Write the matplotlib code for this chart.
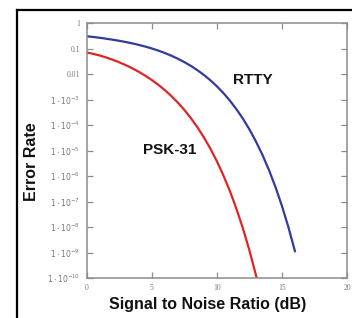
import matplotlib
matplotlib.use("Agg")
import matplotlib.pyplot as plt
from matplotlib.lines import Line2D

# SNR (dB) sample points
snr_rtty = [0, 0.5, 1, 1.5, 2, 2.5, 3, 3.5, 4, 4.5, 5, 5.5, 6, 6.5, 7, 7.5, 8,
            8.5, 9, 9.5, 10, 10.5, 11, 11.5, 12, 12.5, 13, 13.5, 14, 14.5, 15,
            15.5, 16]
err_rtty = [0.31, 0.29, 0.27, 0.248, 0.227, 0.206, 0.184, 0.163, 0.142, 0.122,
            0.103, 0.0848, 0.0683, 0.0536, 0.0408, 0.0300, 0.0213, 0.01452,
            0.00942, 0.00581, 0.00337, 0.00183, 9.23e-4, 4.28e-4, 1.81e-4,
            6.87e-5, 2.32e-5, 6.88e-6, 1.76e-6, 3.79e-7, 6.78e-8, 9.85e-9,
            1.13e-9]

snr_psk = [0, 0.5, 1, 1.5, 2, 2.5, 3, 3.5, 4, 4.5, 5, 5.5, 6, 6.5, 7, 7.5, 8,
           8.5, 9, 9.5, 10, 10.5, 11, 11.5, 12, 12.5, 13, 13.5]
err_psk = [0.072, 0.063, 0.0545, 0.0455, 0.037, 0.0295, 0.0228, 0.0172,
           0.0125, 0.00879, 0.00595, 0.00386, 0.00239, 0.00140, 7.73e-4,
           3.99e-4, 1.91e-4, 8.40e-5, 3.36e-5, 1.21e-5, 3.87e-6, 1.08e-6,
           2.61e-7, 5.33e-8, 9.0e-9, 1.23e-9, 1.33e-10, 1.1e-11]

x_ticks = [0, 5, 10, 15, 20]
x_ticklabels = ["0", "5", "10", "15", "20"]
y_ticks = [1, 0.1, 0.01, 1e-3, 1e-4, 1e-5, 1e-6, 1e-7, 1e-8, 1e-9, 1e-10]
y_ticklabels = ["1", "0.1", "0.01"] + [r"$1\cdot10^{-%d}$" % k for k in range(3, 11)]

fig = plt.figure(figsize=(3.52, 3.18), dpi=100)
fig.patch.set_facecolor("white")
ax = fig.add_axes([86.7 / 352, 1 - 278 / 318, (347 - 86.7) / 352, (278 - 23.3) / 318])

ax.plot(snr_rtty, err_rtty, color="#2f3c9c", lw=1.6)
ax.plot(snr_psk, err_psk, color="#e02424", lw=1.6)

ax.set_yscale("log")
ax.set_xlim(0, 20)
ax.set_ylim(1e-10, 1)
ax.set_xticks(x_ticks)
ax.set_xticklabels(x_ticklabels)
ax.set_yticks(y_ticks)
ax.set_yticklabels(y_ticklabels)
ax.minorticks_off()

grey = "#8c8c8c"
for s in ax.spines.values():
    s.set_color(grey)
    s.set_linewidth(1.1)
ax.tick_params(axis="both", which="major", direction="in", length=4, width=0.9,
               color=grey, labelcolor="#777777", labelsize=5.5,
               top=True, right=True)
ax.tick_params(axis="y", pad=5)
ax.tick_params(axis="x", pad=4)
for lab in ax.get_xticklabels() + ax.get_yticklabels():
    lab.set_family("Liberation Serif")
plt.rcParams["mathtext.fontset"] = "stix"

ax.text(12.8, 10 ** -2.23, "RTTY", fontsize=11, fontweight="bold",
        family="Liberation Sans", ha="center", va="center", color="#111111")
ax.text(6.4, 10 ** -4.97, "PSK-31", fontsize=11, fontweight="bold",
        family="Liberation Sans", ha="center", va="center", color="#111111")

fig.text(208 / 352, 1 - 305 / 318, "Signal to Noise Ratio (dB)", fontsize=11.5,
         fontweight="bold", family="Liberation Sans", ha="center", va="center",
         color="#111111")
fig.text(32 / 352, 1 - 162 / 318, "Error Rate", fontsize=11.5, rotation=90,
         fontweight="bold", family="Liberation Sans", ha="center", va="center",
         color="#111111")

# outer frame (left and top black border)
fig.add_artist(Line2D([17 / 352, 17 / 352], [0, 1 - 10 / 318], color="black",
                      lw=1.6, transform=fig.transFigure))
fig.add_artist(Line2D([17 / 352, 1], [1 - 10 / 318, 1 - 10 / 318], color="black",
                      lw=1.6, transform=fig.transFigure))

fig.savefig("out.png", dpi=100, facecolor="white")
